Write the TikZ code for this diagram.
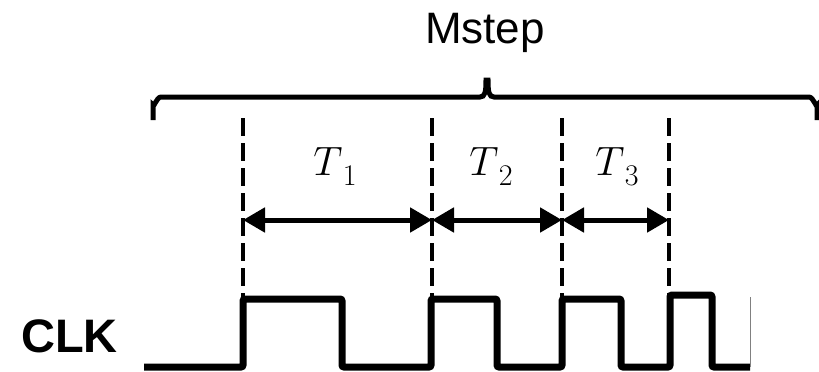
\RequirePackage{fix-cm}
\documentclass[tikz,border=0pt]{standalone}
\usepackage{fontspec}
\newfontfamily\arialfont{Liberation Sans}
\usetikzlibrary{arrows.meta}
\newcommand\mytsub[1]{$T$\kern0.5pt\raisebox{-10pt}{\fontsize{30}{36}\selectfont #1}}
\tikzset{
  bracestyle/.style={line width=5pt, line cap=butt},
  dashline/.style={line width=4.5pt, dash pattern=on 18pt off 7pt},
  spanarrow/.style={line width=5pt, {Triangle[length=22pt,width=24pt]}-{Triangle[length=22pt,width=24pt]}, shorten <=0pt, shorten >=0pt},
  clockline/.style={line width=7pt, rounded corners=2pt, line cap=butt},
  tlabel/.style={anchor=base, inner sep=0pt, font=\fontsize{41}{48}\selectfont},
  sanslabel/.style={inner sep=0pt, font=\arialfont\fontsize{44}{52}\selectfont},
}
\begin{document}
\begin{tikzpicture}[x=1pt,y=-1pt]
\useasboundingbox (0,0) rectangle (819,372);
% title
\node[sanslabel, anchor=base] (mstep) at (485,43) {Mstep};
% brace
\draw[bracestyle] (153,120) -- (153,105) to[out=-90,in=180] (161,97) -- (480,97)
  .. controls (485,97) and (486,92) .. (486,80) -- (488,80)
  .. controls (488,92) and (489,97) .. (494,97) -- (809,97) to[out=0,in=-90] (817,105) -- (817,120);
% dashed lines
\foreach \n/\x in {1/243,2/432,3/562,4/669}{
  \coordinate (top\n) at (\x,118);
  \coordinate (bot\n) at (\x,300);
  \coordinate (arr\n) at (\x,220);
  \draw[dashline] (top\n) -- (bot\n);
}
% arrows
\draw[spanarrow] (arr1) -- (arr2);
\draw[spanarrow] (arr2) -- (arr3);
\draw[spanarrow] (arr3) -- (arr4);
% labels
\node[tlabel] (t1) at (335,175) {\mytsub{1}};
\node[tlabel] (t2) at (491,175) {\mytsub{2}};
\node[tlabel] (t3) at (617,175) {\mytsub{3}};
% clock
\node[sanslabel, anchor=base east, font=\arialfont\bfseries\fontsize{47}{54}\selectfont] (clk) at (118,352) {CLK};
\coordinate (c0) at (144,367);
\coordinate (cend) at (750,367);
\draw[clockline] (c0) -- (243,367) -- (243,299) -- (342,299) -- (342,367) -- (431,367) -- (431,299) -- (497,299) -- (497,367) -- (562,367) -- (562,299) -- (621,299) -- (621,367) -- (670,367) -- (670,295) -- (712,295) -- (712,367) -- (cend);
\draw[gray, line width=1pt] (750,297) -- (cend);
\end{tikzpicture}
\end{document}
